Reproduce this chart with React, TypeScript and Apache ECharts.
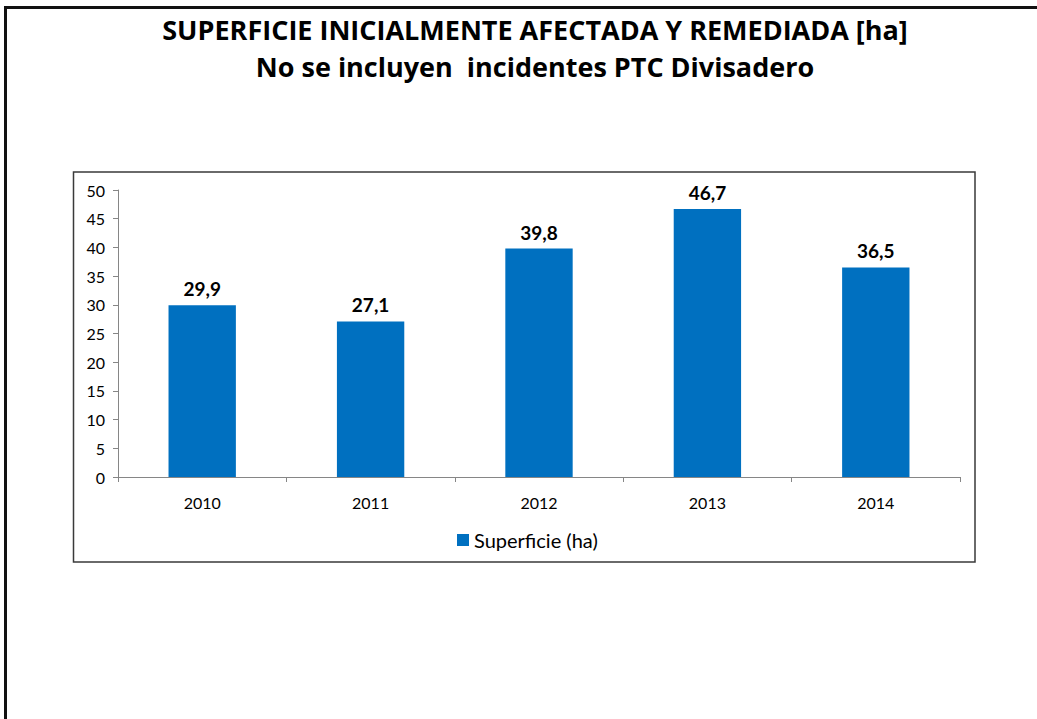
import React, { useEffect, useRef } from "react";
import * as echarts from "echarts";

const categories = ["2010", "2011", "2012", "2013", "2014"];
const values = [29.9, 27.1, 39.8, 46.7, 36.5];
const seriesName = "Superficie (ha)";
const titleLine1 = "SUPERFICIE INICIALMENTE AFECTADA Y REMEDIADA [ha]";
const titleLine2 = "No se incluyen  incidentes PTC Divisadero";

const FONT = "Lato, 'Open Sans', sans-serif";
const TITLE_FONT = "'Open Sans', Lato, sans-serif";

export default function App() {
  const ref = useRef<HTMLDivElement>(null);
  useEffect(() => {
    document.body.style.margin = "0";
    const chart = echarts.init(ref.current!, null, { renderer: "svg" });
    chart.setOption({
      animation: false,
      backgroundColor: "#ffffff",
      textStyle: { fontFamily: FONT },
      title: {
        text: titleLine1 + "\n" + titleLine2,
        left: 530,
        top: 6,
        textAlign: "center",
        textStyle: {
          fontFamily: TITLE_FONT,
          fontSize: 27,
          fontWeight: "bold",
          color: "#000",
          lineHeight: 37,
        },
      },
      graphic: [
        {
          type: "line",
          shape: { x1: 5, y1: 7.5, x2: 1037, y2: 7.5 },
          style: { stroke: "#111", lineWidth: 3 },
          z: 10,
        },
        {
          type: "line",
          shape: { x1: 5.5, y1: 6, x2: 5.5, y2: 719 },
          style: { stroke: "#111", lineWidth: 3 },
          z: 10,
        },
        {
          type: "rect",
          shape: { x: 73.5, y: 172, width: 901.5, height: 390 },
          style: { fill: "none", stroke: "#3a3a3a", lineWidth: 1.5 },
          z: 10,
        },
      ],
      legend: {
        data: [seriesName],
        top: 525,
        left: 452,
        icon: "rect",
        itemWidth: 12,
        itemHeight: 12,
        itemGap: 5,
        textStyle: { fontFamily: FONT, fontSize: 20, color: "#000", padding: [0, 0, 0, 0] },
      },
      grid: { left: 118, right: 77, top: 190, bottom: 242 },
      xAxis: {
        type: "category",
        data: categories,
        axisLine: { show: true, lineStyle: { color: "#868686", width: 1 } },
        axisTick: { show: true, alignWithLabel: false, length: 5, lineStyle: { color: "#868686" } },
        axisLabel: { margin: 17, fontSize: 16, color: "#000", fontFamily: FONT },
      },
      yAxis: {
        type: "value",
        min: 0,
        max: 50,
        interval: 5,
        splitLine: { show: false },
        axisLine: { show: true, lineStyle: { color: "#868686", width: 1 } },
        axisTick: { show: true, length: 5, lineStyle: { color: "#868686" } },
        axisLabel: { margin: 13, fontSize: 16, color: "#000", fontFamily: FONT },
      },
      series: [
        {
          name: seriesName,
          type: "bar",
          data: values,
          barWidth: "40%",
          itemStyle: { color: "#0070C0" },
          label: {
            show: true,
            position: "top",
            distance: 7,
            fontSize: 19,
            fontWeight: "bold",
            color: "#000",
            fontFamily: FONT,
            formatter: (p: any) => String(p.value.toFixed(1)).replace(".", ","),
          },
        },
      ],
    });
    return () => chart.dispose();
  }, []);
  return <div ref={ref} style={{ width: 1037, height: 719 }} />;
}
